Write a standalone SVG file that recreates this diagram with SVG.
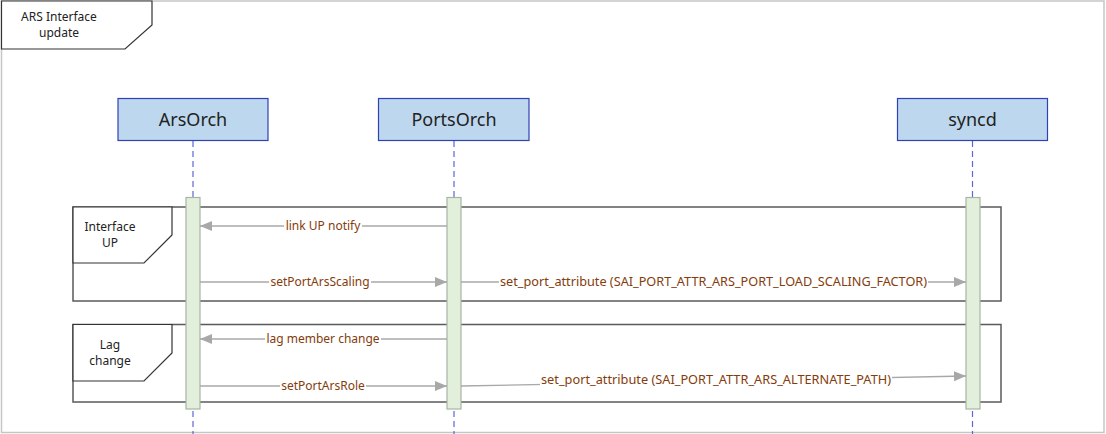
<svg xmlns="http://www.w3.org/2000/svg" width="1106" height="434" viewBox="0 0 1106 434">
<defs>
<style>
.frame{fill:none;stroke:#c6c6c6;stroke-width:1.5}
.tab{fill:#fff;stroke:#333;stroke-width:1.2}
.frag{fill:none;stroke:#5a5a5a;stroke-width:1.5}
.box{fill:#bdd7ee;stroke:#3040b8;stroke-width:1.2}
.life{stroke:#5a68d8;stroke-width:1.2;stroke-dasharray:6 4}
.bar{fill:#e2efda;stroke:#a8b5a4;stroke-width:1.2}
.msg{stroke:#a8a8a8;stroke-width:1.3;fill:none;marker-end:url(#ah)}
.lbg{fill:#fff}
.lbl{font-family:"Noto Sans","Open Sans",sans-serif;font-size:12px;fill:#843c0c;text-anchor:middle}
.ft{font-family:"Noto Sans","Open Sans",sans-serif;font-size:12px;fill:#222;text-anchor:middle}
.ht{font-family:"Noto Sans","Open Sans",sans-serif;font-size:18px;fill:#222;text-anchor:middle}
</style>
<marker id="ah" markerUnits="userSpaceOnUse" markerWidth="13" markerHeight="11" refX="12" refY="5" orient="auto">
<path d="M0,0 L12,5 L0,10 z" fill="#a8a8a8"/>
</marker>
</defs>
<rect x="0" y="0" width="1106" height="434" fill="#fff"/>
<g id="diagram-frame">
<rect class="frame" x="1.5" y="1" width="1102.5" height="431.5"/>
<path class="tab" d="M1.5,1 H152 V25 L125,49 H1.5 Z"/>
<text class="ft" x="59" y="21">ARS Interface</text>
<text class="ft" x="59" y="37">update</text>
</g>
<g id="lifelines">
<line class="life" x1="193" y1="141" x2="193" y2="434"/>
<line class="life" x1="454" y1="141" x2="454" y2="434"/>
<line class="life" x1="972.5" y1="141" x2="972.5" y2="434"/>
</g>
<g id="ArsOrch">
<rect class="box" x="118" y="98.5" width="150" height="42"/>
<text class="ht" x="193" y="126">ArsOrch</text>
</g>
<g id="PortsOrch">
<rect class="box" x="378.5" y="98.5" width="150.5" height="42"/>
<text class="ht" x="454" y="126">PortsOrch</text>
</g>
<g id="syncd">
<rect class="box" x="897.5" y="98.5" width="150" height="42"/>
<text class="ht" x="972.5" y="126">syncd</text>
</g>
<g id="frag-interface-up">
<rect class="frag" x="73" y="207" width="928" height="94"/>
<path class="tab" d="M73,207 H172 V235 L144,263 H73 Z"/>
<text class="ft" x="110" y="231">Interface</text>
<text class="ft" x="110" y="247">UP</text>
</g>
<g id="frag-lag-change">
<rect class="frag" x="73" y="324.5" width="928" height="77.5"/>
<path class="tab" d="M73,324.5 H172 V353 L144,381 H73 Z"/>
<text class="ft" x="110" y="349">Lag</text>
<text class="ft" x="110" y="365">change</text>
</g>
<g id="activations">
<rect class="bar" x="186" y="197.5" width="14" height="211.5"/>
<rect class="bar" x="447" y="197.5" width="14" height="211.5"/>
<rect class="bar" x="966" y="197.5" width="14" height="211.5"/>
</g>
<g id="connectors">
<line class="msg" x1="447" y1="226" x2="200" y2="226"/>
<rect class="lbg" x="284" y="219" width="78" height="14"/>
<text class="lbl" x="323" y="230">link UP notify</text>
<line class="msg" x1="200" y1="282" x2="447" y2="282"/>
<rect class="lbg" x="269" y="275" width="102" height="14"/>
<text class="lbl" x="320" y="286">setPortArsScaling</text>
<line class="msg" x1="461" y1="282" x2="966" y2="282"/>
<rect class="lbg" x="499" y="275" width="429" height="14"/>
<text class="lbl" x="713.5" y="286" textLength="427" lengthAdjust="spacingAndGlyphs">set_port_attribute (SAI_PORT_ATTR_ARS_PORT_LOAD_SCALING_FACTOR)</text>
<line class="msg" x1="447" y1="339" x2="200" y2="339"/>
<rect class="lbg" x="265" y="332" width="116" height="14"/>
<text class="lbl" x="323" y="343">lag member change</text>
<line class="msg" x1="200" y1="386" x2="447" y2="386"/>
<rect class="lbg" x="280" y="379" width="86" height="14"/>
<text class="lbl" x="323" y="390">setPortArsRole</text>
<line class="msg" x1="461" y1="386" x2="966" y2="376"/>
<rect class="lbg" x="540" y="373" width="352" height="14"/>
<text class="lbl" x="716" y="384" textLength="350" lengthAdjust="spacingAndGlyphs">set_port_attribute (SAI_PORT_ATTR_ARS_ALTERNATE_PATH)</text>
</g>
</svg>
